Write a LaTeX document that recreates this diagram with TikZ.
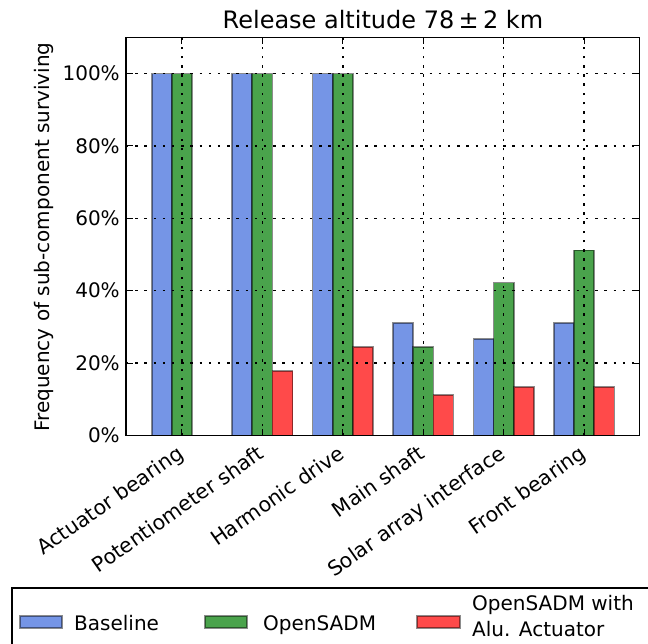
\documentclass[tikz,border=0pt]{standalone}
\usepackage{fontspec}
\setmainfont{DejaVu Sans}
\definecolor{cbase}{RGB}{117,149,230}
\definecolor{copen}{RGB}{74,163,76}
\definecolor{calu}{RGB}{255,74,74}
\tikzset{
  barbox/.style={draw=black, draw opacity=0.45, line width=1.6pt},
  gridline/.style={black, line width=1.4pt, dash pattern=on 2.5pt off 6.7pt},
  tickmark/.style={black, line width=1pt},
  ticklab/.style={font=\fontsize{20}{24}\selectfont, inner sep=0pt},
  xlab/.style={font=\fontsize{20.5}{24}\selectfont, inner sep=0pt, rotate=35, anchor=north east},
}
\begin{document}
\begin{tikzpicture}[x=1pt,y=-1pt]
\useasboundingbox (0,0) rectangle (648,643);
\clip (0,0) rectangle (648,643);
% data-space scope: origin at (tick 0, 0%), 1 unit = group spacing, 1 = 1%
\begin{scope}[shift={(181.9,435.5)}, x=80.45pt, y=3.62pt]
  \coordinate (axsw) at (-0.695,0);
  \coordinate (axne) at (5.69,110);
  % bars
  \foreach \i/\b/\g/\r in {0/100/100/0, 1/100/100/17.78, 2/100/100/24.44,
                           3/31.11/24.44/11.11, 4/26.67/42.22/13.33, 5/31.11/51.11/13.33}{
    \draw[barbox, fill=cbase] (\i-0.375,0) rectangle (\i-0.125,\b);
    \draw[barbox, fill=copen] (\i-0.125,0) rectangle (\i+0.125,\g);
    \ifdim \r pt>0pt
      \draw[barbox, fill=calu] (\i+0.125,0) rectangle (\i+0.375,\r);
    \fi
  }
  % grid
  \foreach \i in {0,...,5}{
    \draw[gridline] (\i,0) -- (\i,110);
    \draw[tickmark] (\i,0) -- ++(0,1.9);
    \draw[tickmark] (\i,110) -- ++(0,-1.9);
  }
  \foreach \v in {20,40,60,80,100}{
    \draw[gridline] (-0.695,\v) -- (5.69,\v);
  }
  \foreach \v in {0,20,40,60,80,100}{
    \draw[tickmark] (-0.695,\v) -- ++(0.09,0);
    \draw[tickmark] (5.69,\v) -- ++(-0.09,0);
    \node[ticklab, anchor=east] (yl\v) at (-0.77,\v) {\v\%};
  }
  % axes frame
  \draw[black, line width=1.3pt] (axsw) rectangle (axne);
  % x tick labels
  \node[xlab] (xl0) at (-0.075,-2.3) {Actuator bearing};
  \node[xlab] (xl1) at (0.925,-2.3) {Potentiometer shaft};
  \node[xlab] (xl2) at (1.925,-2.3) {Harmonic drive};
  \node[xlab] (xl3) at (2.925,-2.3) {Main shaft};
  \node[xlab] (xl4) at (3.925,-2.3) {Solar array interface};
  \node[xlab] (xl5) at (4.925,-2.3) {Front bearing};
\end{scope}
% title
\node[font=\fontsize{24}{28}\selectfont, anchor=base, inner sep=0pt] (title) at (383,28)
  {Release altitude 78\hspace{0.18em}±\hspace{0.18em}2 km};
% y label
\node[ticklab, rotate=90, anchor=south] (ylabel) at (54,237) {Frequency of sub-component surviving};
% legend
\draw[black, line width=1.3pt, fill=white] (12,588) rectangle (680,680);
\draw[barbox, fill=cbase, line width=1.2pt] (20,616) rectangle (62,628);
\node[ticklab, anchor=base west] (lb) at (74,630) {Baseline};
\draw[barbox, fill=copen, line width=1.2pt] (205,616) rectangle (247,628);
\node[ticklab, anchor=base west] (lo) at (263,630) {OpenSADM};
\draw[barbox, fill=calu, line width=1.2pt] (417,616) rectangle (460,628);
\node[ticklab, anchor=base west] (la1) at (472,610) {OpenSADM with};
\node[ticklab, anchor=base west] (la2) at (472,636) {Alu. Actuator};
\end{tikzpicture}
\end{document}
